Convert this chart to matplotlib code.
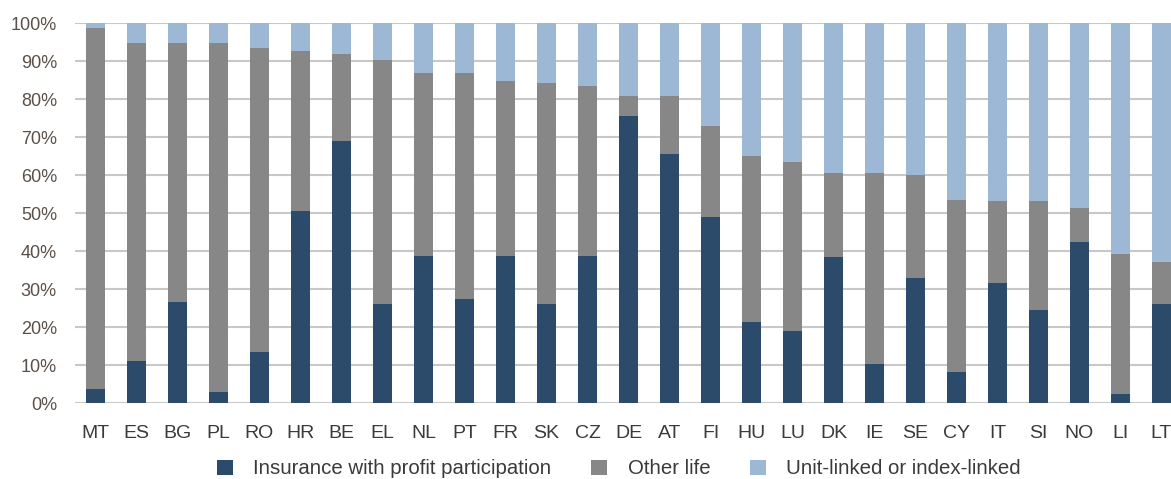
import matplotlib
matplotlib.use("Agg")
import matplotlib.pyplot as plt
from matplotlib.patches import Patch
import numpy as np

countries = ["MT", "ES", "BG", "PL", "RO", "HR", "BE", "EL", "NL", "PT", "FR", "SK", "CZ",
             "DE", "AT", "FI", "HU", "LU", "DK", "IE", "SE", "CY", "IT", "SI", "NO", "LI", "LT"]
profit_participation = [3.7, 11.0, 26.6, 2.9, 13.4, 50.5, 69.0, 26.0, 38.7, 27.4, 38.7, 26.0, 38.7,
                        75.5, 65.5, 49.0, 21.3, 19.0, 38.4, 10.3, 33.0, 8.2, 31.6, 24.5, 42.4, 2.4, 26.0]
cum_other = [98.8, 94.7, 94.7, 94.7, 93.4, 92.6, 91.8, 90.3, 86.8, 86.8, 84.7, 84.2, 83.4,
             80.8, 80.8, 72.9, 65.0, 63.4, 60.5, 60.5, 60.0, 53.4, 53.2, 53.2, 51.3, 39.2, 37.0]
other_life = [c - p for c, p in zip(cum_other, profit_participation)]
unit_linked = [100 - c for c in cum_other]
series_labels = ["Insurance with profit participation", "Other life", "Unit-linked or index-linked"]
colors = ["#2c4a69", "#878787", "#9db8d5"]
yticks = [0, 10, 20, 30, 40, 50, 60, 70, 80, 90, 100]

plt.rcParams['font.family'] = ['Liberation Sans', 'DejaVu Sans']

W, H = 1171, 479
fig = plt.figure(figsize=(W / 100, H / 100), dpi=100)
left_px, right_px = 75, 75 + 27 * 41
top_px, bot_px = 23, 403
ax = fig.add_axes([left_px / W, (H - bot_px) / H, (right_px - left_px) / W, (bot_px - top_px) / H])

x = np.arange(len(countries))
bw = 0.44
ax.bar(x, profit_participation, bw, color=colors[0], zorder=3)
ax.bar(x, other_life, bw, bottom=profit_participation, color=colors[1], zorder=3)
ax.bar(x, unit_linked, bw, bottom=cum_other, color=colors[2], zorder=3)

ax.set_xlim(-0.5, len(countries) - 0.5)
ax.set_ylim(0, 100)
ax.set_yticks(yticks)
ax.set_yticklabels([f"{v}%" for v in yticks], fontsize=13, color="#5a5048")
ax.set_xticks(x)
ax.set_xticklabels(countries, fontsize=14, color="#3a3a3a")
ax.tick_params(axis='both', length=0)
ax.tick_params(axis='x', pad=16)
ax.tick_params(axis='y', pad=13)
ax.yaxis.grid(True, color="#c8c8c8", linewidth=1.5, zorder=0)
ax.set_axisbelow(True)
for s in ax.spines.values():
    s.set_visible(False)

handles = [Patch(facecolor=c, edgecolor='none') for c in colors]
fig.legend(handles, series_labels, loc='center', bbox_to_anchor=(619 / W, (H - 469) / H),
           ncol=3, frameon=False, fontsize=14.7, handlelength=0.78, handleheight=0.75,
           handletextpad=1.0, columnspacing=1.95, labelcolor="#3a3a3a",
           borderpad=0, borderaxespad=0)

fig.savefig("out.png", dpi=100)
